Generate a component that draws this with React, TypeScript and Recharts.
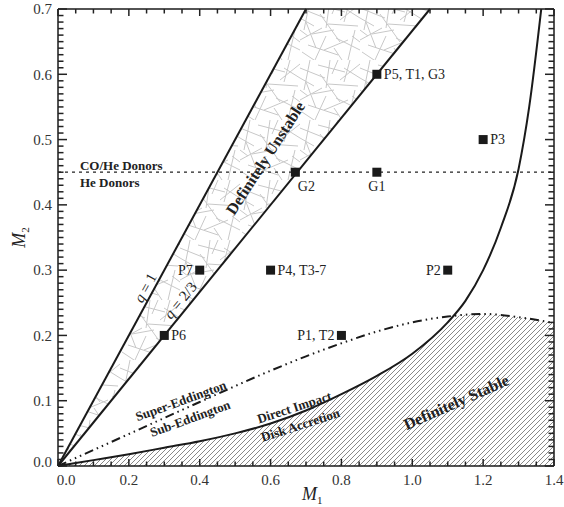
import { Area, ComposedChart, Line, ReferenceDot, ReferenceLine, Scatter, XAxis, YAxis } from "recharts";

// donor / accretor masses (solar masses)
const qOneM1 = [0, 0.7];
const qTwoThirdsM1 = [0, 1.05];
const impactM1 = [0, 0.1, 0.2, 0.3, 0.4, 0.5, 0.6, 0.7, 0.8, 0.9, 1.0, 1.1, 1.15, 1.2, 1.25, 1.3, 1.33, 1.364];
const impactM2 = [0, 0.009, 0.018, 0.028, 0.038, 0.05, 0.065, 0.085, 0.11, 0.138, 0.172, 0.22, 0.253, 0.3, 0.365, 0.455, 0.55, 0.7];
const eddM1 = [0, 0.2, 0.4, 0.6, 0.7, 0.8, 0.9, 1.0, 1.1, 1.2, 1.3, 1.4];
const eddM2 = [0, 0.049, 0.098, 0.146, 0.168, 0.188, 0.206, 0.22, 0.229, 0.233, 0.228, 0.219];
const crossing = { m1: 1.115, m2: 0.229 };
const donorSplit = 0.45;

const pointNames = ["P5, T1, G3", "P3", "G2", "G1", "P7", "P4, T3-7", "P2", "P6", "P1, T2"];
const pointM1 = [0.9, 1.2, 0.67, 0.9, 0.4, 0.6, 1.1, 0.3, 0.8];
const pointM2 = [0.6, 0.5, 0.45, 0.45, 0.3, 0.3, 0.3, 0.2, 0.2];

const xMajor = [0, 0.2, 0.4, 0.6, 0.8, 1.0, 1.2, 1.4];
const yMajor = [0, 0.1, 0.2, 0.3, 0.4, 0.5, 0.6, 0.7];
const xMinor = Array.from({ length: 29 }, (_, i) => +(i * 0.05).toFixed(2));
const yMinor = Array.from({ length: 71 }, (_, i) => +(i * 0.01).toFixed(2));

const labelSide: Record<string, string> = {
  "P5, T1, G3": "right",
  P3: "right",
  G2: "belowRight",
  G1: "below",
  P7: "left",
  "P4, T3-7": "right",
  P2: "left",
  P6: "right",
  "P1, T2": "left",
};

const notes = [
  { text: "CO/He Donors", m1: 0.062, m2: 0.461, angle: 0, size: 13, anchor: "start" },
  { text: "He Donors", m1: 0.062, m2: 0.435, angle: 0, size: 13, anchor: "start" },
  { text: "Definitely Unstable", m1: 0.585, m2: 0.472, angle: -57, size: 16, anchor: "middle" },
  { text: "Definitely Stable", m1: 1.124, m2: 0.098, angle: -24, size: 16, anchor: "middle" },
  { text: "Super-Eddington", m1: 0.347, m2: 0.1, angle: -20, size: 13, anchor: "middle" },
  { text: "Sub-Eddington", m1: 0.373, m2: 0.073, angle: -20, size: 13, anchor: "middle" },
  { text: "Direct Impact", m1: 0.667, m2: 0.09, angle: -18, size: 13, anchor: "middle" },
  { text: "Disk Accretion", m1: 0.684, m2: 0.063, angle: -18, size: 13, anchor: "middle" },
];

const FONT = "'Liberation Serif', 'DejaVu Serif', serif";
const INK = "#1a1a1a";

const zip = (xs: number[], ys: number[]) => xs.map((m1, i) => ({ m1, m2: ys[i] }));
const qOne = qOneM1.map((m1) => ({ m1, m2: Math.min(m1, 0.7) }));
const qTwoThirds = qTwoThirdsM1.map((m1) => ({ m1, m2: (2 * m1) / 3 }));
const band = [0, 0.7, 1.05].map((m1) => ({ m1, band: [(2 * m1) / 3, Math.min(m1, 0.7)] }));
const impact = zip(impactM1, impactM2);
const edd = zip(eddM1, eddM2);
const stableTop = [
  ...impact.filter((p) => p.m1 <= 1.1),
  crossing,
  ...edd.filter((p) => p.m1 >= 1.2),
];
const points = pointNames.map((name, i) => ({ name, m1: pointM1[i], m2: pointM2[i] }));

const isMajor = (v: number, step: number) => Math.abs(v / step - Math.round(v / step)) < 1e-6;

// frame tick marks on all four sides, placed through the chart scales
const bottomMarks = xMinor.map((m1) => ({ m1, m2: 0, major: isMajor(m1, 0.2) }));
const topMarks = xMinor.map((m1) => ({ m1, m2: 0.7, major: isMajor(m1, 0.2) }));
const leftMarks = yMinor.map((m2) => ({ m1: 0, m2, major: isMajor(m2, 0.1) }));
const rightMarks = yMinor.map((m2) => ({ m1: 1.4, m2, major: isMajor(m2, 0.1) }));

const markShape = (dir: "up" | "down" | "right" | "left") => (props: any) => {
  const { cx, cy, payload } = props;
  const vLen = payload.major ? 7 : 4.5;
  const hLen = payload.major ? 9 : 5.5;
  const d =
    dir === "up"
      ? `M${cx},${cy}v${-vLen}`
      : dir === "down"
      ? `M${cx},${cy}v${vLen}`
      : dir === "right"
      ? `M${cx},${cy}h${hLen}`
      : `M${cx},${cy}h${-hLen}`;
  return <path d={d} stroke="#222" strokeWidth={1.5} fill="none" />;
};

function BottomLabel(props: any) {
  const { x, y, payload } = props;
  const v = payload.value;
  return (
    <text x={v === 0 ? x + 8 : x} y={y + 19} textAnchor="middle" fontFamily={FONT} fontSize={15} fill="#333">
      {v.toFixed(1)}
    </text>
  );
}

function LeftLabel(props: any) {
  const { x, y, payload } = props;
  const v = payload.value;
  return (
    <text x={x - 6} y={v === 0 ? y - 4 : y} dy="0.35em" textAnchor="end" fontFamily={FONT} fontSize={15} fill="#333">
      {v.toFixed(1)}
    </text>
  );
}

function PointMark(props: any) {
  const { cx, cy, payload } = props;
  const side = labelSide[payload.name];
  let tx = cx + 7;
  let ty = cy;
  let anchor = "start";
  if (side === "left") {
    tx = cx - 7;
    anchor = "end";
  } else if (side === "below") {
    tx = cx;
    ty = cy + 14;
    anchor = "middle";
  } else if (side === "belowRight") {
    tx = cx + 11;
    ty = cy + 14;
    anchor = "middle";
  }
  return (
    <g>
      <rect x={cx - 4.5} y={cy - 4.5} width={9} height={9} fill={INK} />
      <text x={tx} y={ty} dy="0.35em" textAnchor={anchor} fontFamily={FONT} fontSize={14} fill="#222">
        {payload.name}
      </text>
    </g>
  );
}

const scribble =
  "M0,8 L25,18 M10,0 L4,30 M18,5 L45,12 M30,0 L26,28 M40,20 L60,4 M0,40 L22,28 M8,45 L38,55 M15,60 L26,36 " +
  "M36,38 L60,50 M48,60 L55,30 M0,18 L14,26 M20,14 L40,42 M2,52 L14,60 M28,24 L58,26 M50,0 L44,22 M6,22 L16,48 " +
  "M34,48 L42,60 M44,8 L60,18 M12,34 L34,30 M24,50 L48,40 M52,36 L60,42 M0,30 L8,36 M38,0 L32,14";

export default function App() {
  return (
    <div style={{ position: "absolute", left: 0, top: 0, background: "#fff" }}>
      <ComposedChart width={564} height={507} margin={{ top: 9, right: 10, bottom: 0, left: 0 }}>
        <defs>
          <pattern id="hatch" width="5" height="5" patternUnits="userSpaceOnUse">
            <path d="M-1,1 l2,-2 M0,5 l5,-5 M4,6 l2,-2" stroke="#6a6a6a" strokeWidth="0.8" />
          </pattern>
          <pattern id="scribble" width="60" height="60" patternUnits="userSpaceOnUse">
            <path d={scribble} stroke="#c8c8c8" strokeWidth="1" fill="none" />
          </pattern>
        </defs>

        <XAxis
          xAxisId="b"
          dataKey="m1"
          type="number"
          domain={[0, 1.4]}
          ticks={xMajor}
          interval={0}
          tickSize={0}
          tickMargin={0}
          tickLine={false}
          tick={<BottomLabel />}
          height={41}
          stroke={INK}
          strokeWidth={1.5}
          label={{
            content: ({ viewBox }: any) => (
              <text x={viewBox.x + viewBox.width / 2 - 4} y={viewBox.y + 34} fontFamily={FONT} fontSize={18} fontStyle="italic" fill="#222">
                M<tspan dy={4} fontSize={11} fontStyle="normal">1</tspan>
              </text>
            ),
          }}
        />
        <YAxis
          yAxisId="l"
          dataKey="m2"
          type="number"
          domain={[0, 0.7]}
          ticks={yMajor}
          interval={0}
          tickSize={0}
          tickMargin={0}
          tickLine={false}
          tick={<LeftLabel />}
          width={58}
          stroke={INK}
          strokeWidth={1.5}
          label={{
            content: ({ viewBox }: any) => {
              const cx = 25;
              const cy = viewBox.y + viewBox.height / 2;
              return (
                <text x={cx} y={cy} transform={`rotate(-90 ${cx} ${cy})`} textAnchor="middle" fontFamily={FONT} fontSize={18} fontStyle="italic" fill="#222">
                  M<tspan dy={4} fontSize={11} fontStyle="normal">2</tspan>
                </text>
              );
            },
          }}
        />

        <Area xAxisId="b" yAxisId="l" data={band} dataKey="band" type="linear" fill="url(#scribble)" fillOpacity={1} stroke="none" isAnimationActive={false} />
        <Area xAxisId="b" yAxisId="l" data={stableTop} dataKey="m2" type="monotone" fill="url(#hatch)" fillOpacity={1} stroke="none" isAnimationActive={false} />

        <ReferenceLine xAxisId="b" yAxisId="l" y={donorSplit} stroke="#222" strokeWidth={1.2} strokeDasharray="3 4" />
        <ReferenceLine xAxisId="b" yAxisId="l" y={0.7} stroke={INK} strokeWidth={1.5} />
        <ReferenceLine xAxisId="b" yAxisId="l" x={1.4} stroke={INK} strokeWidth={1.5} />

        <Line xAxisId="b" yAxisId="l" data={qOne} dataKey="m2" type="linear" stroke={INK} strokeWidth={2} dot={false} isAnimationActive={false} />
        <Line xAxisId="b" yAxisId="l" data={qTwoThirds} dataKey="m2" type="linear" stroke={INK} strokeWidth={2} dot={false} isAnimationActive={false} />
        <Line xAxisId="b" yAxisId="l" data={impact} dataKey="m2" type="monotone" stroke={INK} strokeWidth={2} dot={false} isAnimationActive={false} />
        <Line
          xAxisId="b"
          yAxisId="l"
          data={edd}
          dataKey="m2"
          type="monotone"
          stroke={INK}
          strokeWidth={2}
          strokeDasharray="9 4 1.5 4 1.5 4 1.5 4"
          dot={false}
          isAnimationActive={false}
        />

        <Scatter xAxisId="b" yAxisId="l" data={bottomMarks} dataKey="m2" shape={markShape("up")} isAnimationActive={false} />
        <Scatter xAxisId="b" yAxisId="l" data={topMarks} dataKey="m2" shape={markShape("down")} isAnimationActive={false} />
        <Scatter xAxisId="b" yAxisId="l" data={leftMarks} dataKey="m2" shape={markShape("right")} isAnimationActive={false} />
        <Scatter xAxisId="b" yAxisId="l" data={rightMarks} dataKey="m2" shape={markShape("left")} isAnimationActive={false} />

        <Scatter xAxisId="b" yAxisId="l" data={points} dataKey="m2" shape={<PointMark />} isAnimationActive={false} />

        {notes.map((n) => (
          <ReferenceDot
            key={n.text}
            xAxisId="b"
            yAxisId="l"
            x={n.m1}
            y={n.m2}
            r={0}
            shape={({ cx, cy }: any) => (
              <text
                x={cx}
                y={cy}
                dy="0.35em"
                textAnchor={n.anchor as any}
                transform={`rotate(${n.angle} ${cx} ${cy})`}
                fontFamily={FONT}
                fontWeight="bold"
                fontSize={n.size}
                fill="#222"
              >
                {n.text}
              </text>
            )}
          />
        ))}
        <ReferenceDot
          xAxisId="b"
          yAxisId="l"
          x={0.246}
          y={0.273}
          r={0}
          shape={({ cx, cy }: any) => (
            <text x={cx} y={cy} dy="0.35em" textAnchor="middle" transform={`rotate(-61 ${cx} ${cy})`} fontFamily={FONT} fontSize={15} fill="#222">
              <tspan fontStyle="italic">q</tspan> = 1
            </text>
          )}
        />
        <ReferenceDot
          xAxisId="b"
          yAxisId="l"
          x={0.345}
          y={0.254}
          r={0}
          shape={({ cx, cy }: any) => (
            <text x={cx} y={cy} dy="0.35em" textAnchor="middle" transform={`rotate(-51 ${cx} ${cy})`} fontFamily={FONT} fontSize={15} fill="#222">
              <tspan fontStyle="italic">q</tspan> = 2/3
            </text>
          )}
        />
      </ComposedChart>
    </div>
  );
}
